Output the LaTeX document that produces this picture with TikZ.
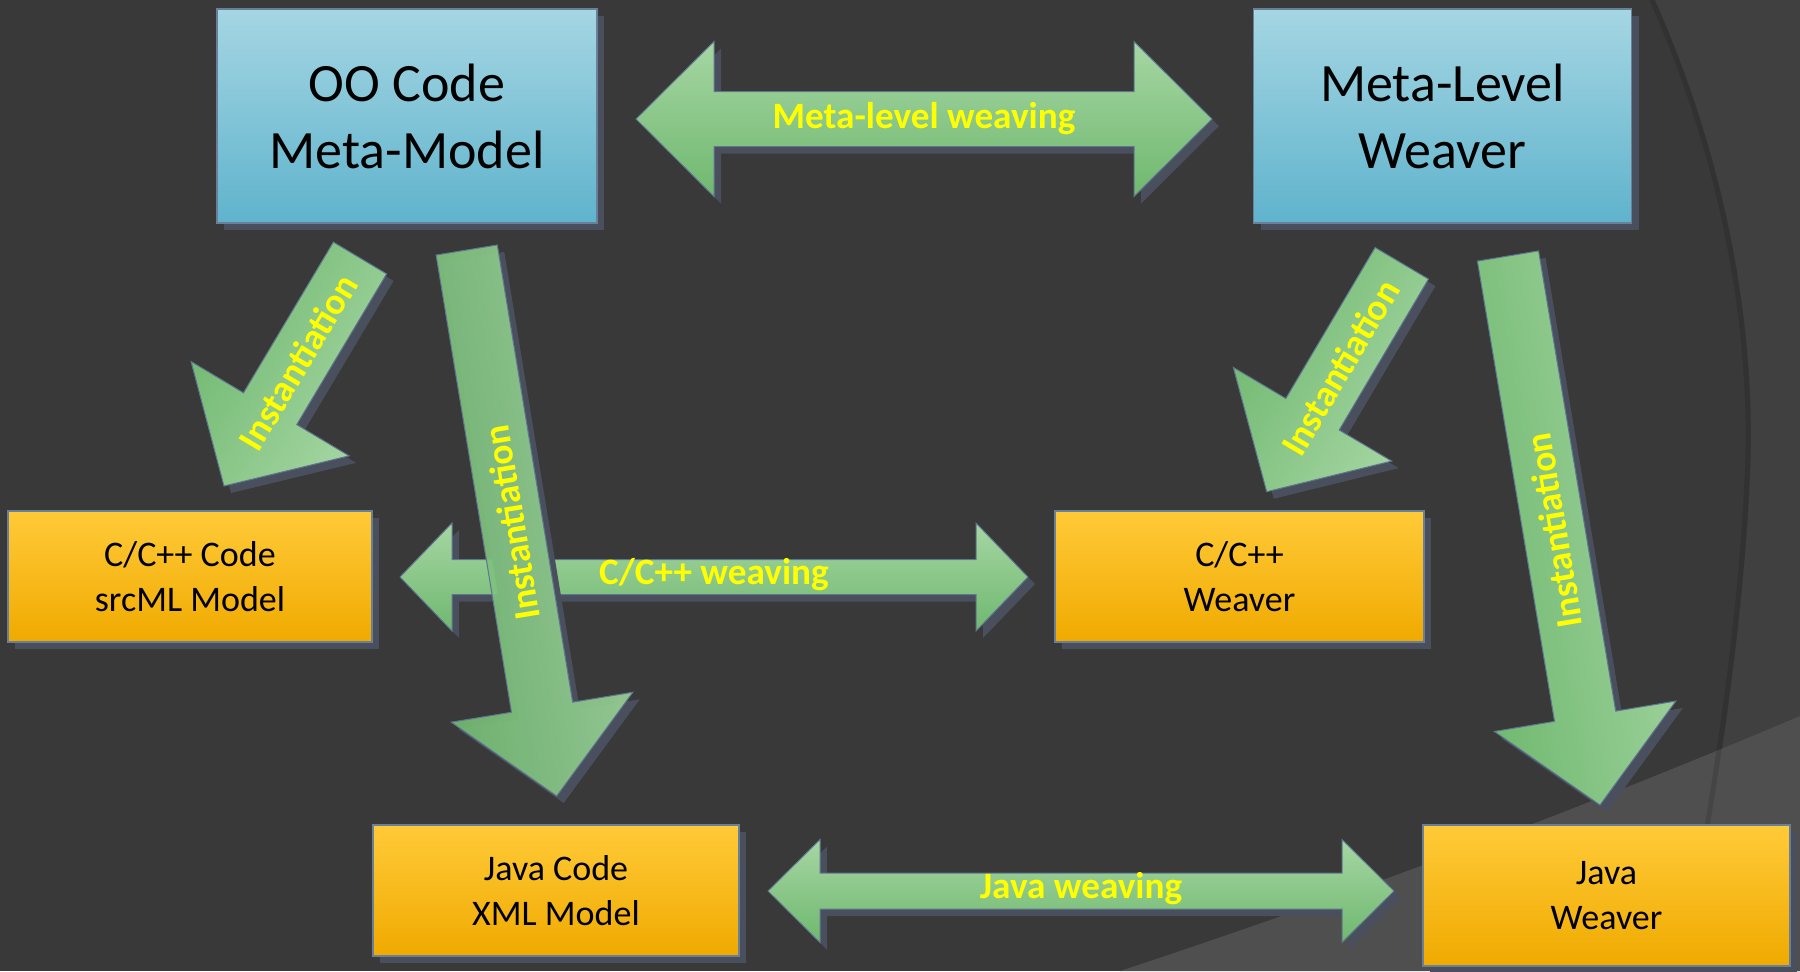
\documentclass[tikz,border=0pt]{standalone}
\usepackage{fontspec}
\setmainfont{Carlito}
\usetikzlibrary{calc,shadows}
\definecolor{bg}{HTML}{393939}
\definecolor{bgarc}{HTML}{404040}
\definecolor{bglow}{HTML}{4F4F4F}
\definecolor{bluetop}{HTML}{A5D6E3}
\definecolor{bluebot}{HTML}{5FB3CC}
\definecolor{orgtop}{HTML}{FFCA38}
\definecolor{orgbot}{HTML}{F0AA00}
\definecolor{boxline}{HTML}{6A8098}
\definecolor{shc}{HTML}{4A4F5E}
\definecolor{grlight}{HTML}{A6D6A3}
\definecolor{grdark}{HTML}{6FB86F}
\definecolor{arline}{HTML}{5F7590}
\definecolor{lbl}{HTML}{FFFF00}
\tikzset{
  dshadow/.style={drop shadow={shadow xshift=3.5pt,shadow yshift=-3.5pt,fill=shc,opacity=1}},
  bluebox/.style={draw=boxline, line width=0.6pt, top color=bluetop, bottom color=bluebot,
    minimum height=107pt, align=center, inner sep=0pt, dshadow,
    font=\fontsize{27}{33.5}\selectfont},
  orangebox/.style={draw=boxline, line width=0.6pt, top color=orgtop, bottom color=orgbot,
    minimum height=65.5pt, align=center, inner sep=0pt, dshadow,
    font=\fontsize{18}{22.5}\selectfont},
  arrowbody/.style={draw=arline, line width=0.5pt, top color=grlight, bottom color=grdark},
  lbltext/.style={text=lbl, inner sep=0pt, font=\bfseries\fontsize{18.6}{20}\selectfont},
  arcline/.style={black, opacity=0.12, line width=2.5pt},
}
% double block arrow: #1 left tip, #2 right tip, #3 shaft half, #4 head half, #5 head length, #6 prefix
\newcommand\dblarrow[6]{%
  \coordinate (#6p) at ($(#1)!#5!(#2)$);
  \coordinate (#6q) at ($(#2)!#5!(#1)$);
  \shade[arrowbody, dshadow] (#1) -- ($(#6p)!#4!90:(#2)$) -- ($(#6p)!#3!90:(#2)$)
    -- ($(#6q)!#3!-90:(#1)$) -- ($(#6q)!#4!-90:(#1)$) -- (#2)
    -- ($(#6q)!#4!90:(#1)$) -- ($(#6q)!#3!90:(#1)$)
    -- ($(#6p)!#3!-90:(#2)$) -- ($(#6p)!#4!-90:(#2)$) -- cycle;
}
% single block arrow: #1 tail, #2 tip, #3 prefix, #4 shading angle, #5 extra options
\newcommand\instarrow[5]{%
  \coordinate (#3h) at ($(#2)!45pt!(#1)$);
  \shade[arrowbody, dshadow, shading angle=#4, #5] ($(#1)!15.5pt!90:(#2)$) -- ($(#3h)!15.5pt!90:(#2)$)
    -- ($(#3h)!46pt!90:(#2)$) -- (#2) -- ($(#3h)!46pt!-90:(#2)$)
    -- ($(#3h)!15.5pt!-90:(#2)$) -- ($(#1)!15.5pt!-90:(#2)$) -- cycle;
}
\begin{document}
\begin{tikzpicture}[x=0.5pt,y=-0.5pt]
\useasboundingbox (0,0) rectangle (1800,971);
% background
\fill[bg] (0,0) rectangle (1800,971);
\fill[bgarc] (1655,0) .. controls (1722,150) and (1758,320) .. (1750,480)
  .. controls (1742,650) and (1712,820) .. (1685,971) -- (1800,971) -- (1800,0) -- cycle;
\fill[bglow] (1120,971) .. controls (1320,905) and (1560,818) .. (1800,716) -- (1800,971) -- cycle;
\draw[arcline] (1652,0) .. controls (1719,150) and (1755,320) .. (1747,480)
  .. controls (1739,650) and (1709,820) .. (1682,971);

% boxes
\node[bluebox, minimum width=190pt] (oo) at (407,116) {OO Code\\Meta-Model};
\node[bluebox, minimum width=189pt] (mlw) at (1442.5,116) {Meta-Level\\Weaver};
\node[orangebox, minimum width=182pt] (ccode) at (190,576.5) {C/C++ Code\\srcML Model};
\node[orangebox, minimum width=184.5pt] (cweav) at (1239.5,576.5) {C/C++\\Weaver};
\node[orangebox, minimum width=183pt] (jcode) at (556,890.5) {Java Code\\XML Model};
\node[orangebox, minimum width=183.5pt, minimum height=70.5pt] (jweav) at (1606.5,895.5) {Java\\Weaver};

% arrow end points
\coordinate (mlL) at (636,119);
\coordinate (mlR) at (1212,119);
\coordinate (ccL) at (400,577);
\coordinate (ccR) at (1028,577);
\coordinate (jvL) at (768,891);
\coordinate (jvR) at (1394,891);
\coordinate (i1s) at (360,258);
\coordinate (i1e) at (224,486);
\coordinate (i2s) at (466.7,250);
\coordinate (i2e) at (556.7,796);
\coordinate (i3s) at (1401.8,263.3);
\coordinate (i3e) at (1266.7,491.7);
\coordinate (i4s) at (1508,256);
\coordinate (i4e) at (1600,805);

% weaving arrows
\dblarrow{mlL}{mlR}{13.75pt}{38.75pt}{39pt}{ml}
\dblarrow{ccL}{ccR}{8.75pt}{27pt}{26pt}{cc}
\dblarrow{jvL}{jvR}{9pt}{25.75pt}{26pt}{jv}
\node[lbltext] (mllbl) at ($(mlL)!0.5!(mlR)$) {Meta-level weaving};
\node[lbltext] (cclbl) at ($(ccL)!0.5!(ccR)+(0,-2)$) {C/C++ weaving};
\node[lbltext] (jvlbl) at ($(jvL)!0.5!(jvR)+(0,-2)$) {Java weaving};

% instantiation arrows
\instarrow{i1s}{i1e}{ia}{-120.8}{}
\instarrow{i2s}{i2e}{ib}{-80.6}{fill opacity=0.92}
\instarrow{i3s}{i3e}{ic}{-120.6}{}
\instarrow{i4s}{i4e}{id}{-80.5}{}
\node[lbltext, rotate=59.2] (t1) at ($(i1s)!0.457!(i1e)$) {Instantiation};
\node[lbltext, rotate=99.4] (t2) at ($(i2s)!0.5!(i2e)$) {Instantiation};
\node[lbltext, rotate=59.4] (t3) at ($(i3s)!0.457!(i3e)$) {Instantiation};
\node[lbltext, rotate=99.5] (t4) at ($(i4s)!0.5!(i4e)$) {Instantiation};
\end{tikzpicture}
\end{document}
